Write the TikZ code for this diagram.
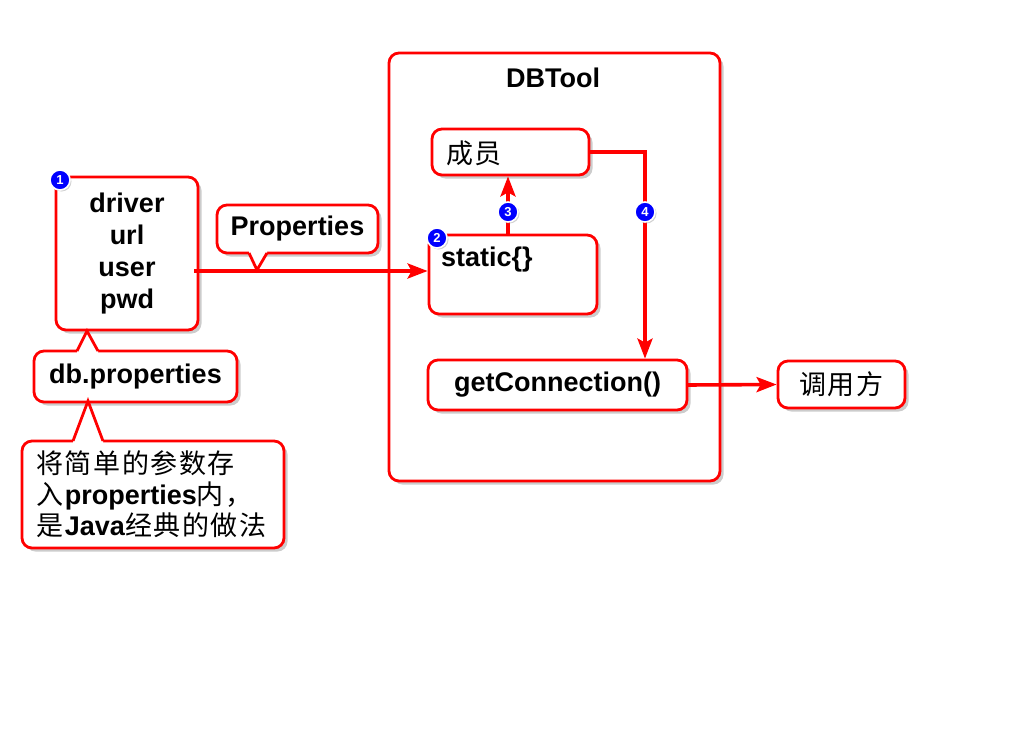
\documentclass[tikz,border=0pt]{standalone}
\usepackage{fontspec}
\setmainfont{Liberation Sans}
\newfontfamily\cjk[LetterSpace=6]{Noto Sans CJK SC}
\usetikzlibrary{shadows,arrows.meta,calc}
\begin{document}
\begin{tikzpicture}[x=1pt,y=-1pt,
  box/.style={draw=red, line width=2.8pt, rounded corners=10pt, fill=white,
    drop shadow={opacity=0.4,shadow xshift=3.5pt,shadow yshift=-3.5pt}, inner sep=0pt},
  lbl/.style={font=\fontsize{27}{32}\selectfont\bfseries},
  cjklbl/.style={font=\fontsize{27}{31}\selectfont\cjk},
  conn/.style={draw=red, line width=3.6pt},
  arr/.style={conn, -{Stealth[length=20pt,width=15pt,inset=4pt]}},
  ptr/.style={draw=red, line width=2.8pt, line join=miter},
  badge/.style={circle, fill=blue, draw=white, line width=1.6pt, minimum size=20pt,
    inner sep=0pt, text=white, font=\fontsize{13}{13}\selectfont\bfseries,
    drop shadow={opacity=0.35,shadow xshift=1.5pt,shadow yshift=-1.5pt}},
]
\useasboundingbox[fill=white] (0,0) rectangle (1024,728);

% DBTool container
\node[box, minimum width=331pt, minimum height=428pt] (dbtool) at (554.5,267) {};
\node[lbl] (dbtitle) at (553,78) {DBTool};

% left properties box
\node[box, minimum width=142pt, minimum height=153pt, align=center, lbl] (props) at (127,253.5)
  {driver\\url\\user\\pwd};

% Properties callout
\node[box, minimum width=161pt, minimum height=48pt, lbl] (pcall) at (297.5,229) {Properties};
\fill[white] (249,248) -- (249,253) -- (257,270) -- (267,253) -- (267,248) -- cycle;
\draw[ptr] (249,253) -- (257,270) -- (267,253);

% db.properties callout
\node[box, minimum width=203pt, minimum height=51pt, lbl] (dbcall) at (135.5,376.5) {db.properties};
\fill[white] (77,356) -- (77,351) -- (87,331) -- (98,351) -- (98,356) -- cycle;
\draw[ptr] (77,351) -- (87,331) -- (98,351);

% description callout
\node[box, minimum width=262pt, minimum height=107pt] (desc) at (153,494.5) {};
\fill[white] (73,446) -- (73,441) -- (88,401) -- (103,441) -- (103,446) -- cycle;
\draw[ptr] (73,441) -- (88,401) -- (103,441);
\node[anchor=north west, align=left, font=\fontsize{27}{31}\selectfont, inner sep=0pt] (desctext) at (36,450)
  {{\cjk 将简单的参数存}\\{\cjk 入}\textbf{properties}{\cjk 内，}\\{\cjk 是}\textbf{Java}{\cjk 经典的做法}};

% inner boxes
\node[box, minimum width=157pt, minimum height=46pt] (member) at (510.5,152) {};
\node[cjklbl, anchor=west, inner sep=0pt] (membertext) at (446,153) {成员};
\node[box, minimum width=168pt, minimum height=79pt] (static) at (513,274.5) {};
\node[lbl, anchor=west, inner sep=0pt] (statictext) at (441,260) {static\{\}};
\node[box, minimum width=259pt, minimum height=50pt, lbl] (getconn) at (557.5,385) {getConnection()};
\node[box, minimum width=127pt, minimum height=47pt, cjklbl] (callee) at (841.5,384.5) {调用方};

% connectors
\draw[arr] ([xshift=-5pt]props.east |- 0,271) -- (static.west |- 0,271);
\draw[arr] (static.north -| 508,0) -- (member.south -| 508,0);
\draw[arr] ([xshift=-2pt]member.east) -| (getconn.north -| 645,0);
\draw[arr] ([xshift=-2pt]getconn.east) -- (callee.west);

% badges
\node[badge] (b1) at (60,180) {1};
\node[badge] (b2) at (437,238) {2};
\node[badge] (b3) at (508,212) {3};
\node[badge] (b4) at (645,212) {4};
\end{tikzpicture}
\end{document}
